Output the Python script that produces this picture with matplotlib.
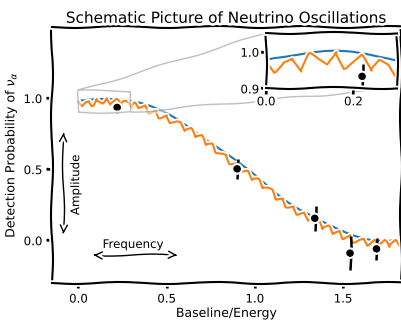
import numpy as np
import matplotlib
matplotlib.use("Agg")
import matplotlib.pyplot as plt

# baseline/energy grid (step 0.02)
x = np.linspace(0, 1.84, 93)

# smooth oscillation probability
p_smooth = [0.978, 0.984, 0.988, 0.992, 0.995, 0.998, 0.999, 1.000, 1.000, 0.999,
            0.998, 0.995, 0.992, 0.988, 0.984, 0.978, 0.972, 0.966, 0.958, 0.950,
            0.941, 0.931, 0.921, 0.910, 0.899, 0.887, 0.874, 0.861, 0.847, 0.832,
            0.817, 0.802, 0.786, 0.770, 0.753, 0.736, 0.718, 0.700, 0.682, 0.664,
            0.645, 0.626, 0.607, 0.588, 0.569, 0.549, 0.529, 0.510, 0.490, 0.471,
            0.451, 0.431, 0.412, 0.393, 0.374, 0.355, 0.336, 0.318, 0.300, 0.282,
            0.264, 0.247, 0.230, 0.214, 0.198, 0.183, 0.168, 0.153, 0.139, 0.126,
            0.113, 0.101, 0.090, 0.079, 0.069, 0.059, 0.050, 0.042, 0.034, 0.028,
            0.022, 0.016, 0.012, 0.008, 0.005, 0.002, 0.001, 0.000, 0.000, 0.001,
            0.002, 0.005, 0.008]

# fast-oscillating probability
p_fast = [0.974, 0.944, 0.973, 0.982, 0.945, 0.995, 0.979, 0.965, 1.000, 0.954,
          0.973, 0.991, 0.947, 0.976, 0.964, 0.930, 0.967, 0.926, 0.936, 0.948,
          0.893, 0.907, 0.918, 0.860, 0.874, 0.883, 0.826, 0.831, 0.837, 0.829,
          0.767, 0.778, 0.784, 0.722, 0.727, 0.733, 0.668, 0.675, 0.678, 0.616,
          0.615, 0.614, 0.605, 0.538, 0.544, 0.546, 0.481, 0.484, 0.486, 0.421,
          0.427, 0.428, 0.364, 0.365, 0.364, 0.353, 0.286, 0.293, 0.297, 0.234,
          0.238, 0.243, 0.180, 0.190, 0.195, 0.135, 0.138, 0.143, 0.137, 0.076,
          0.088, 0.098, 0.042, 0.053, 0.065, 0.009, 0.026, 0.039, -0.014, 0.000,
          0.012, 0.014, -0.038, -0.017, 0.002, -0.046, -0.025, -0.004, -0.050, -0.023,
          -0.001, -0.043, -0.020]

# measurements
meas_x = [0.22, 0.9, 1.34, 1.54, 1.69]
meas_y = [0.932, 0.50, 0.152, -0.093, -0.063]
meas_err = [0.035, 0.07, 0.088, 0.12, 0.076]

with plt.xkcd():
    plt.rcParams['font.family'] = ['DejaVu Sans']
    fig = plt.figure(figsize=(4.02, 3.21), dpi=100)
    ax = fig.add_axes([0.129, 0.119, 0.869, 0.797])

    ax.plot(x, p_smooth, color='C0', lw=1.5)
    ax.plot(x, p_fast, color='C1', lw=1.5)
    ax.errorbar(meas_x, meas_y, yerr=meas_err, fmt='o', color='k',
                ms=4, elinewidth=1.8, capsize=0)

    ax.set_xlim(-0.15, 1.83)
    ax.set_ylim(-0.3, 1.5)
    ax.set_xticks([0.0, 0.5, 1.0, 1.5])
    ax.set_yticks([0.0, 0.5, 1.0])
    ax.tick_params(labelsize=8.5, length=4, width=2, pad=3)
    ax.set_title("Schematic Picture of Neutrino Oscillations", fontsize=11, pad=3)
    ax.set_xlabel("Baseline/Energy", fontsize=9, labelpad=1)
    ax.set_ylabel(r"Detection Probability of $\nu_\alpha$", fontsize=9, labelpad=3)

    # amplitude / frequency markers
    ax.annotate('', xy=(-0.084, 0.78), xytext=(-0.084, 0.02),
                arrowprops=dict(arrowstyle='<->', color='k', lw=1))
    ax.text(-0.015, 0.39, "Amplitude", rotation=90, fontsize=8.5,
            ha='center', va='center')
    ax.annotate('', xy=(0.066, -0.105), xytext=(0.58, -0.105),
                arrowprops=dict(arrowstyle='<->', color='k', lw=1))
    ax.text(0.31, -0.03, "Frequency", fontsize=8.5, ha='center', va='center')

    # zoomed inset
    axins = ax.inset_axes([0.613, 0.76, 0.375, 0.215])
    axins.plot(x, p_smooth, color='C0', lw=1.5)
    axins.plot(x, p_fast, color='C1', lw=1.5)
    axins.errorbar(meas_x, meas_y, yerr=meas_err, fmt='o', color='k',
                   ms=4, elinewidth=1.8, capsize=0)
    axins.set_xlim(0, 0.3)
    axins.set_ylim(0.9, 1.05)
    axins.set_xticks([0.0, 0.2])
    axins.set_yticks([0.9, 1.0])
    axins.tick_params(labelsize=8.5, length=4, width=2, pad=1)
    ind = ax.indicate_inset_zoom(axins, edgecolor='gray')
    # upper-left and lower-right connectors only
    for i, c in enumerate(ind.connectors):
        c.set_visible(i in (1, 2))

    fig.savefig("out.png", dpi=100)
